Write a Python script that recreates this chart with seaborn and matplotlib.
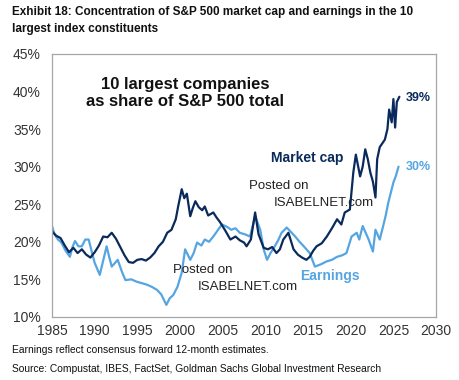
import matplotlib
matplotlib.use("Agg")
import numpy as np
import pandas as pd
import seaborn as sns
from matplotlib import pyplot as plt
from matplotlib.ticker import FuncFormatter

# data (share of S&P 500 total, %)
mcap_years = [1985.0, 1985.5, 1986.0, 1986.5, 1987.0, 1987.5, 1988.0, 1988.5, 1989.0, 1989.5,
              1990.0, 1990.5, 1991.0, 1991.5, 1992.0, 1992.5, 1993.0, 1993.5, 1994.0, 1994.5,
              1995.0, 1995.5, 1996.0, 1996.5, 1997.0, 1997.5, 1998.0, 1998.5, 1999.0, 1999.5,
              1999.8, 2000.2, 2000.5, 2000.8, 2001.2, 2001.5, 2001.8, 2002.2, 2002.6, 2002.9,
              2003.3, 2003.9, 2004.3, 2004.7, 2005.3, 2005.9, 2006.5, 2007.0, 2007.5, 2007.8,
              2008.3, 2008.8, 2009.2, 2009.8, 2010.3, 2010.8, 2011.3, 2011.7, 2012.1, 2012.7,
              2013.3, 2013.8, 2014.3, 2014.8, 2015.2, 2015.6, 2016.0, 2016.6, 2017.2, 2017.8,
              2018.4, 2018.9, 2019.3, 2019.9, 2020.3, 2020.6, 2021.1, 2021.4, 2021.7, 2022.0,
              2022.3, 2022.6, 2022.9, 2023.1, 2023.4, 2024.0, 2024.3, 2024.5, 2024.8, 2025.0,
              2025.2, 2025.4, 2025.7]
mcap_vals = [21.4, 20.8, 20.5, 19.5, 18.6, 19.2, 18.5, 19.0, 18.3, 17.9,
             18.6, 19.5, 20.7, 20.6, 21.2, 20.4, 19.3, 18.2, 17.3, 17.2,
             17.6, 17.7, 17.5, 17.9, 18.5, 19.4, 20.0, 21.2, 21.6, 23.0,
             24.8, 27.0, 25.8, 26.4, 23.4, 24.5, 25.4, 24.6, 24.2, 24.7,
             23.5, 23.9, 23.2, 22.6, 21.5, 20.3, 20.7, 20.2, 19.9, 19.4,
             20.3, 23.9, 21.0, 19.2, 19.0, 19.3, 18.5, 19.0, 20.3, 21.2,
             19.0, 18.3, 17.9, 17.6, 18.0, 18.8, 19.4, 19.8, 20.7, 21.8,
             23.0, 22.3, 23.9, 24.3, 29.2, 31.6, 28.7, 30.0, 32.3, 31.0,
             29.2, 28.0, 25.9, 31.0, 32.6, 33.6, 35.0, 37.6, 35.9, 39.0,
             35.2, 38.6, 39.3]

earn_years = [1985.0, 1985.3, 1985.7, 1986.1, 1986.6, 1987.1, 1987.4, 1987.7, 1988.1, 1988.5,
              1988.9, 1989.3, 1989.7, 1990.0, 1990.6, 1991.0, 1991.4, 1991.7, 1992.0, 1992.4,
              1992.7, 1993.2, 1993.6, 1994.3, 1994.9, 1995.5, 1996.1, 1996.7, 1997.3, 1997.8,
              1998.4, 1998.8, 1999.2, 1999.7, 2000.2, 2000.6, 2001.2, 2001.6, 2002.0, 2002.5,
              2002.9, 2003.4, 2003.9, 2004.4, 2004.9, 2005.5, 2006.0, 2006.5, 2007.0, 2007.6,
              2008.2, 2008.8, 2009.4, 2009.8, 2010.2, 2010.6, 2011.1, 2011.5, 2011.9, 2012.5,
              2013.0, 2013.5, 2014.0, 2014.5, 2015.2, 2015.8, 2016.5, 2017.2, 2017.8, 2018.4,
              2019.0, 2019.5, 2020.1, 2020.7, 2021.0, 2021.4, 2022.1, 2022.6, 2022.9, 2023.4,
              2023.8, 2024.1, 2024.4, 2025.0, 2025.3, 2025.6]
earn_vals = [22.1, 21.0, 20.3, 19.9, 18.8, 18.0, 19.3, 20.1, 19.4, 19.4,
             20.3, 20.3, 18.5, 17.2, 15.6, 17.5, 19.4, 18.0, 16.7, 17.2,
             17.6, 16.0, 14.9, 15.0, 14.7, 14.5, 14.3, 14.0, 13.6, 13.0,
             11.6, 12.5, 12.9, 14.0, 15.9, 19.0, 17.6, 18.5, 19.9, 19.5,
             20.3, 20.0, 20.7, 21.5, 22.3, 22.0, 21.6, 21.8, 21.2, 21.0,
             20.7, 23.4, 21.6, 19.0, 17.6, 18.5, 19.4, 20.2, 21.2, 21.9,
             21.3, 20.7, 20.0, 19.4, 18.5, 16.7, 17.0, 17.4, 17.6, 18.0,
             18.2, 18.5, 20.7, 21.2, 20.3, 22.1, 20.3, 18.7, 21.6, 20.3,
             22.1, 23.5, 25.2, 27.9, 28.8, 30.0]

x_ticks = list(range(1985, 2031, 5))
y_ticks = list(range(10, 46, 5))

NAVY = "#0B2A5C"
LIGHT = "#55A5E2"
GREY_TXT = "#333333"

df = pd.concat([
    pd.DataFrame({"year": mcap_years, "share": mcap_vals, "series": "Market cap"}),
    pd.DataFrame({"year": earn_years, "share": earn_vals, "series": "Earnings"}),
], ignore_index=True)

sns.set_style("white")
plt.rcParams["font.family"] = ["Liberation Sans", "DejaVu Sans"]

fig = plt.figure(figsize=(4.6, 3.8), dpi=100)
ax = fig.add_axes([0.113, 0.166, 0.835, 0.692])

sns.lineplot(data=df, x="year", y="share", hue="series", palette={"Market cap": NAVY, "Earnings": LIGHT},
             hue_order=["Earnings", "Market cap"], estimator=None, sort=False, linewidth=1.6,
             legend=False, ax=ax)

ax.set_xlim(1985, 2030)
ax.set_ylim(10, 45)
ax.set_xticks(x_ticks)
ax.set_yticks(y_ticks)
ax.yaxis.set_major_formatter(FuncFormatter(lambda v, _: f"{v:.0f}%"))
ax.set_xlabel("")
ax.set_ylabel("")
ax.tick_params(axis="both", labelsize=10, colors="#999999", labelcolor=GREY_TXT)
ax.tick_params(axis="x", direction="in", length=3, width=0.8, pad=5)
ax.tick_params(axis="y", length=0, pad=8)
for side, sp in ax.spines.items():
    sp.set_color("#A6A6A6")
    sp.set_linewidth(0.9)

# annotations
ax.text(2000.6, 39.8, "10 largest companies\nas share of S&P 500 total", ha="center", va="center",
        fontsize=12, fontweight="bold", color="#111111", linespacing=1.2)
ax.text(2014.9, 31.2, "Market cap", ha="center", va="center", fontsize=10, fontweight="bold", color=NAVY)
ax.text(2017.6, 15.5, "Earnings", ha="center", va="center", fontsize=10, fontweight="bold", color=LIGHT)
ax.text(mcap_years[-1] + 0.8, mcap_vals[-1] - 0.2, f"{round(mcap_vals[-1])}%", ha="left", va="center",
        fontsize=9, fontweight="bold", color=NAVY)
ax.text(earn_years[-1] + 0.9, earn_vals[-1], f"{round(earn_vals[-1])}%", ha="left", va="center",
        fontsize=9, fontweight="bold", color=LIGHT)

# watermark text
ax.text(2002.7, 16.3, "Posted on", ha="center", va="center", fontsize=9.5, color="#222222")
ax.text(2008.0, 14.0, "ISABELNET.com", ha="center", va="center", fontsize=9.5, color="#222222")
ax.text(2011.6, 27.4, "Posted on", ha="center", va="center", fontsize=9.5, color="#222222")
ax.text(2016.8, 25.1, "ISABELNET.com", ha="center", va="center", fontsize=9.5, color="#222222")

fig.text(0.026, 0.985, "Exhibit 18: Concentration of S&P 500 market cap and earnings in the 10\nlargest index constituents",
         ha="left", va="top", fontsize=8.5, fontweight="bold", color="#111111", linespacing=1.55)
fig.text(0.026, 0.079, "Earnings reflect consensus forward 12-month estimates.", ha="left", va="center",
         fontsize=7.4, color="#111111")
fig.text(0.026, 0.029, "Source: Compustat, IBES, FactSet, Goldman Sachs Global Investment Research", ha="left",
         va="center", fontsize=7.4, color="#111111")

fig.savefig("out.png", dpi=100)
